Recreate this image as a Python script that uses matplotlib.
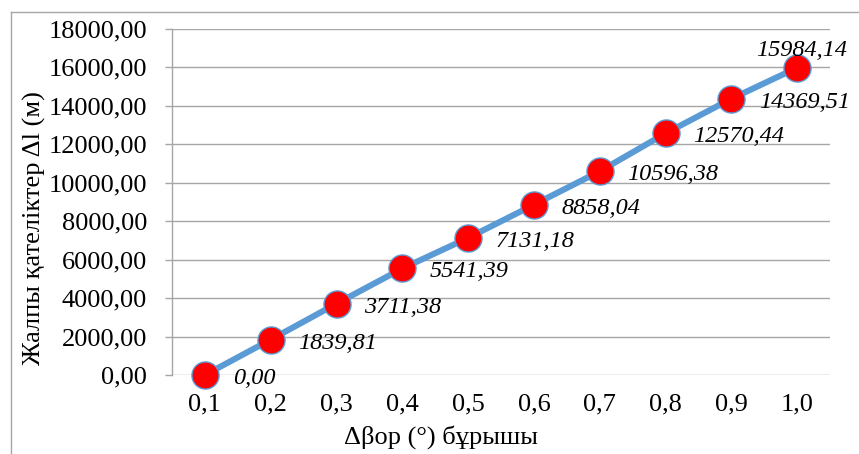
import matplotlib.pyplot as plt
from matplotlib.lines import Line2D

# data
categories = ["0,1", "0,2", "0,3", "0,4", "0,5", "0,6", "0,7", "0,8", "0,9", "1,0"]
values = [0.00, 1839.81, 3711.38, 5541.39, 7131.18, 8858.04, 10596.38, 12570.44, 14369.51, 15984.14]
yticks = [0, 2000, 4000, 6000, 8000, 10000, 12000, 14000, 16000, 18000]

plt.rcParams['font.family'] = ['Liberation Serif', 'DejaVu Serif']

W, H = 859, 454
fig = plt.figure(figsize=(W / 100, H / 100), dpi=100)
ax = fig.add_axes([172 / W, 1 - 375 / H, (830 - 172) / W, (375 - 29) / H])

x = list(range(len(values)))
ax.plot(x, values, color="#5B9BD5", lw=4.4, zorder=3, clip_on=False,
        marker="o", ms=19.5, mfc="#FF0000", mec="#5B9BD5", mew=1.0)

# data labels
for i, v in enumerate(values):
    txt = f"{v:.2f}".replace(".", ",")
    if i == len(values) - 1:
        ax.annotate(txt, (i, v), xytext=(3.6, 8.6), textcoords="offset points",
                    ha="center", va="baseline", fontsize=17.5, style="italic", zorder=4)
    else:
        ax.annotate(txt, (i, v), xytext=(20, -2.5), textcoords="offset points",
                    ha="left", va="center", fontsize=17.5, style="italic", zorder=4)

ax.set_xlim(-0.5, len(values) - 0.5)
ax.set_ylim(0, 18000)
ax.set_xticks(x)
ax.set_xticklabels(categories)
ax.set_yticks(yticks)
ax.set_yticklabels([f"{t:.2f}".replace(".", ",") for t in yticks])
ax.tick_params(axis="x", length=0, pad=13, labelsize=19)
ax.tick_params(axis="y", length=5, width=1, color="#A6A6A6", pad=13, labelsize=19)

ax.grid(axis="y", color="#A6A6A6", lw=1)
ax.set_axisbelow(True)
for s in ["top", "right", "bottom"]:
    ax.spines[s].set_visible(False)
ax.spines["left"].set_color("#A6A6A6")
ax.spines["left"].set_linewidth(1)

fig.text(441 / W, 1 - 437 / H, "Δβор (°) бұрышы", ha="center", va="center", fontsize=19)
fig.text(34 / W, 1 - 228 / H, "Жалпы қателіктер Δl (м)", ha="center", va="center",
         rotation=90, fontsize=19)

# chart frame (left and top edges visible)
fig.add_artist(Line2D([11 / W, 11 / W], [0, 1 - 12 / H], color="#A6A6A6", lw=1))
fig.add_artist(Line2D([11 / W, 1], [1 - 12 / H, 1 - 12 / H], color="#A6A6A6", lw=1))

fig.savefig("out.png", dpi=100)
